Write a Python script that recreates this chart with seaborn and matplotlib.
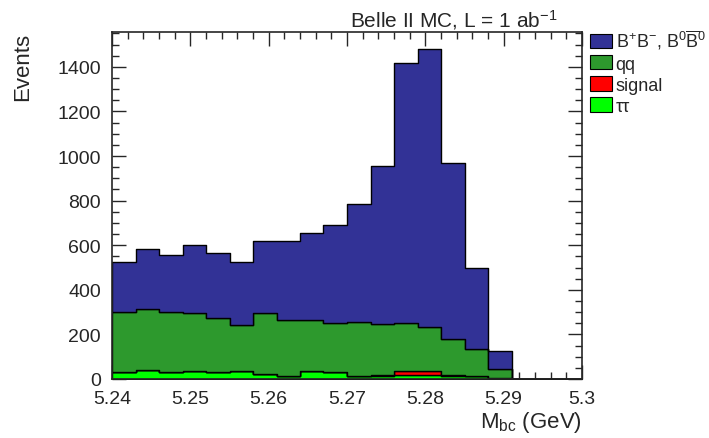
import numpy as np
import pandas as pd
import seaborn as sns
import matplotlib.pyplot as plt
from matplotlib.patches import Patch
from matplotlib.ticker import MultipleLocator, FixedLocator

# 20 bins of 3 MeV from 5.24 to 5.30 GeV
n_bins = 20
x_range = (5.24, 5.30)

# events per bin
bb = [225, 267, 256, 307, 292, 283, 325, 354, 391, 440,
      530, 710, 1165, 1247, 789, 365, 79, 0, 0, 0]
qq = [269, 272, 269, 261, 242, 207, 272, 249, 229, 220,
      240, 227, 212, 197, 162, 120, 42, 0, 0, 0]
signal = [0, 0, 0, 0, 0, 0, 2, 2, 0, 0,
          2, 8, 20, 20, 6, 3, 0, 0, 0, 0]
tautau = [30, 42, 30, 34, 30, 34, 22, 12, 34, 30,
          12, 12, 18, 18, 12, 12, 3, 0, 0, 0]

labels = [r'B$^{+}$B$^{-}$, B$^{0}\overline{\mathrm{B}}^{0}$', 'qq', 'signal', 'ττ']
colors = ['#323296', '#2d992d', '#ff0000', '#00ff00']

edges = np.linspace(x_range[0], x_range[1], n_bins + 1)
centers = 0.5 * (edges[:-1] + edges[1:])
frames = []
for name, vals in zip(labels, [bb, qq, signal, tautau]):
    frames.append(pd.DataFrame({'mbc': centers, 'events': vals, 'comp': name}))
df = pd.concat(frames, ignore_index=True)

sns.set_style('ticks')
plt.rcParams['font.family'] = ['Liberation Sans', 'DejaVu Sans']
plt.rcParams['mathtext.fontset'] = 'custom'
plt.rcParams['mathtext.rm'] = 'Liberation Sans'
plt.rcParams['mathtext.it'] = 'Liberation Sans'
plt.rcParams['mathtext.bf'] = 'Liberation Sans'

fig = plt.figure(figsize=(7.09, 4.39), dpi=100)
ax = fig.add_axes([112 / 709, 59 / 439, 470 / 709, 347 / 439])

sns.histplot(data=df, x='mbc', weights='events', hue='comp', hue_order=labels,
             palette=dict(zip(labels, colors)), bins=n_bins, binrange=x_range,
             multiple='stack', element='step', alpha=1, edgecolor='black',
             linewidth=1.0, legend=False, ax=ax)

ax.set_xlim(*x_range)
ax.set_ylim(0, 1.05 * max(np.sum([bb, qq, signal, tautau], axis=0)))

ax.xaxis.set_major_locator(FixedLocator([5.24, 5.25, 5.26, 5.27, 5.28, 5.29, 5.30]))
ax.set_xticklabels(['5.24', '5.25', '5.26', '5.27', '5.28', '5.29', '5.3'])
ax.xaxis.set_minor_locator(MultipleLocator(0.002))
ax.yaxis.set_major_locator(MultipleLocator(200))
ax.yaxis.set_minor_locator(MultipleLocator(50))
ax.tick_params(which='both', direction='in', top=True, right=True, width=1, labelsize=14)
ax.tick_params(which='major', length=10, pad=8)
ax.tick_params(which='minor', length=5)
for s in ax.spines.values():
    s.set_linewidth(1.2)

ax.set_xlabel('')
ax.set_ylabel('')
fig.text(582 / 709, 1 - 428 / 439, r'M$_{\mathrm{bc}}$ (GeV)', ha='right', va='baseline', fontsize=16)
fig.text(33 / 709, 1 - 33 / 439, 'Events', rotation=90, ha='right', va='top', fontsize=16)
fig.text(557 / 709, 1 - 27 / 439, r'Belle II MC, L = 1 ab$^{-1}$', ha='right', va='baseline', fontsize=15)

handles = [Patch(facecolor=c, edgecolor='black', linewidth=0.8) for c in colors]
fig.legend(handles, labels, loc='upper left', bbox_to_anchor=(590 / 709, 1 - 29 / 439),
           frameon=False, fontsize=13, handlelength=1.22, handleheight=0.85,
           handletextpad=0.2, labelspacing=0.2, borderaxespad=0, borderpad=0)

fig.savefig('out.png', dpi=100)
